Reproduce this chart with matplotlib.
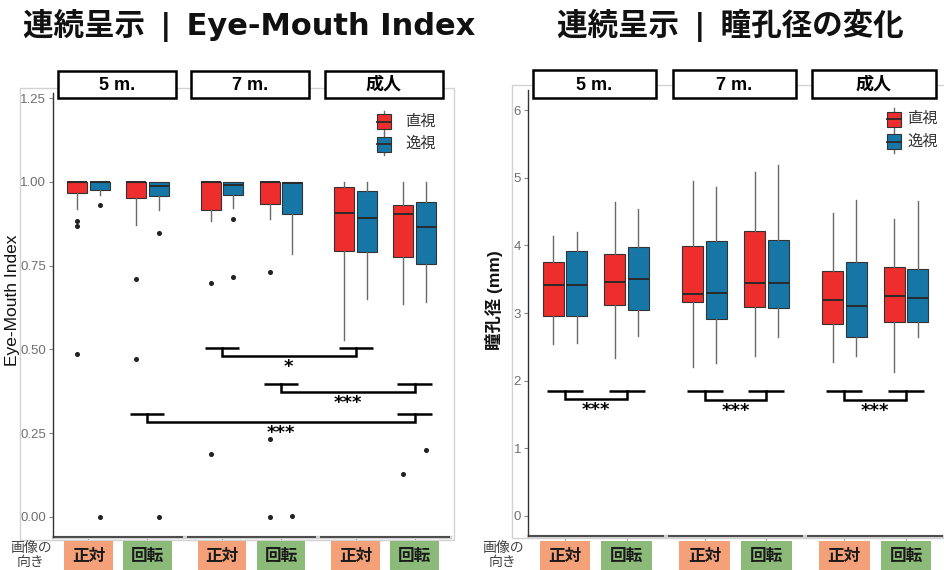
import matplotlib
matplotlib.use('Agg')
import matplotlib.pyplot as plt
from matplotlib.patches import Rectangle
from matplotlib.lines import Line2D
from matplotlib.transforms import Affine2D, blended_transform_factory

plt.rcParams['font.family'] = ['Liberation Sans', 'Noto Sans CJK JP', 'DejaVu Sans']

FACETS = ['5 m.', '7 m.', '成人']
ORIENT = ['正対', '回転']
GAZE = ['直視', '逸視']

# order: facet -> orientation -> gaze (直視, 逸視)
EMI_LO = [0.920, 0.961, 0.872, 0.915, 0.884, 0.922, 0.889, 0.786, 0.527, 0.649, 0.634, 0.641]
EMI_Q1 = [0.966, 0.976, 0.951, 0.958, 0.917, 0.961, 0.934, 0.905, 0.793, 0.790, 0.776, 0.756]
EMI_MED = [1.000, 1.000, 0.998, 0.986, 0.998, 0.989, 1.000, 0.996, 0.907, 0.893, 0.905, 0.865]
EMI_Q3 = [1.000, 1.000, 1.000, 1.000, 1.000, 1.000, 1.000, 1.000, 0.983, 0.974, 0.930, 0.940]
EMI_HI = [1.000, 1.000, 1.000, 1.000, 1.000, 1.000, 1.000, 1.000, 1.000, 1.000, 0.998, 1.000]
EMI_OUT = [
    [0.884, 0.869, 0.485], [0.930, 0.000],
    [0.710, 0.470], [0.847, 0.000],
    [0.699, 0.188], [0.889, 0.715],
    [0.732, 0.232, 0.000], [0.004],
    [], [],
    [0.129], [0.199],
]

PUP_LO = [2.54, 2.55, 2.34, 2.66, 2.20, 2.26, 2.37, 2.64, 2.27, 2.37, 2.13, 2.65]
PUP_Q1 = [2.96, 2.95, 3.12, 3.04, 3.16, 2.91, 3.09, 3.08, 2.83, 2.64, 2.86, 2.87]
PUP_MED = [3.41, 3.42, 3.46, 3.50, 3.28, 3.30, 3.45, 3.45, 3.19, 3.11, 3.25, 3.22]
PUP_Q3 = [3.75, 3.92, 3.88, 3.98, 3.99, 4.06, 4.21, 4.08, 3.62, 3.75, 3.68, 3.65]
PUP_HI = [4.14, 4.20, 4.65, 4.54, 4.96, 4.87, 5.09, 5.19, 4.48, 4.67, 4.39, 4.66]
PUP_OUT = [[] for _ in range(12)]

# brackets: (facet, orientation) -> (facet, orientation), height, label
EMI_BRACKETS = [
    ((1, 0), (2, 0), 0.504, '*'),
    ((1, 1), (2, 1), 0.396, '***'),
    ((0, 1), (2, 1), 0.307, '***'),
]
PUP_BRACKETS = [
    ((0, 0), (0, 1), 1.85, '***'),
    ((1, 0), (1, 1), 1.84, '***'),
    ((2, 0), (2, 1), 1.84, '***'),
]

FILL = {'直視': '#ee2d2d', '逸視': '#1677a6'}
ORIENT_BG = {'正対': '#f4a078', '回転': '#8cba78'}
EDGE = '#333333'
WHISK = '#6a6a6a'
FRAME = '#d2d2d2'

STEP = 2.265
HALF = 0.19
BOXW = 0.34

W, H = 944, 570
fig = plt.figure(figsize=(W / 100, H / 100), dpi=100)
PX = Affine2D().scale(1 / W, -1 / H).translate(0, 1) + fig.transFigure


def axes_px(x0, y0, x1, y1):
    return fig.add_axes([x0 / W, 1 - y1 / H, (x1 - x0) / W, (y1 - y0) / H])


def center(f, o):
    return f * STEP + 1 + o


def draw_chart(box, frame, stats, fliers, ylim, yticks, yfmt, brackets, drop,
               ylabel, ylabel_x, ylabel_bold, title, title_x,
               strip_y, legend_xy, legend_gap, side_x):
    ax = axes_px(*box)
    lo, q1, med, q3, hi = stats

    bxp_stats, pos, colors = [], [], []
    i = 0
    for f in range(len(FACETS)):
        for o in range(len(ORIENT)):
            for g, gaze in enumerate(GAZE):
                bxp_stats.append(dict(whislo=lo[i], q1=q1[i], med=med[i], q3=q3[i],
                                      whishi=hi[i], fliers=fliers[i]))
                pos.append(center(f, o) + (g - 0.5) * 2 * HALF)
                colors.append(FILL[gaze])
                i += 1

    parts = ax.bxp(bxp_stats, positions=pos, widths=BOXW, patch_artist=True,
                   showcaps=False, manage_ticks=False,
                   boxprops=dict(edgecolor=EDGE, linewidth=0.8),
                   medianprops=dict(color='#2a2a2a', linewidth=1.4),
                   whiskerprops=dict(color=WHISK, linewidth=1.0),
                   flierprops=dict(marker='o', markersize=2.6, markerfacecolor='#222222',
                                   markeredgecolor='#222222', linestyle='none'))
    for patch, c in zip(parts['boxes'], colors):
        patch.set_facecolor(c)

    # significance brackets
    arm = 0.29
    for (fa, oa), (fb, ob), y, lab in brackets:
        xa, xb = center(fa, oa), center(fb, ob)
        yl = y - drop
        for x in (xa, xb):
            ax.plot([x - arm, x + arm], [y, y], color='black', lw=1.8,
                    solid_capstyle='butt')
        ax.plot([xa, xa, xb, xb], [y, yl, yl, y], color='black', lw=1.8,
                solid_joinstyle='miter')
        ax.annotate(lab, ((xa + xb) / 2, yl), xytext=(0, -11.5),
                    textcoords='offset points', ha='center', va='baseline',
                    fontsize=13, fontweight='bold', family='DejaVu Sans')

    x0, x1 = 0.4, (len(FACETS) - 1) * STEP + 2.6
    ax.set_xlim(x0, x1)
    ax.set_ylim(*ylim)
    ax.set_facecolor('none')
    for s in ('top', 'right', 'bottom'):
        ax.spines[s].set_visible(False)
    ax.spines['left'].set_color('#333333')
    ax.spines['left'].set_linewidth(1.0)
    ax.set_yticks(yticks)
    ax.set_yticklabels([yfmt.format(v) for v in yticks])
    ax.tick_params(axis='y', length=3, color='#888888', labelcolor='#6f6f6f',
                   labelsize=9.5, pad=2)
    ax.set_xticks([center(f, o) for f in range(len(FACETS)) for o in range(len(ORIENT))])
    ax.set_xticklabels([])
    ax.tick_params(axis='x', length=3, color='#888888')

    # bottom axis: one segment per facet
    bt = blended_transform_factory(ax.transData, ax.transAxes)
    ax.plot([x0, x1], [0, 0], transform=bt, color=FRAME, lw=2.5, clip_on=False)
    for f in range(len(FACETS)):
        ax.plot([f * STEP + 0.4, f * STEP + 2.6], [0, 0], transform=bt,
                color='#333333', lw=1.2, clip_on=False, solid_capstyle='butt')

    # outer frame
    fx0, fy0, fx1, fy1 = frame
    fig.add_artist(Rectangle((fx0, fy0), fx1 - fx0, fy1 - fy0, transform=PX,
                             fill=False, edgecolor=FRAME, lw=1.0, zorder=0.5))

    # facet strips and orientation labels
    sx = blended_transform_factory(ax.transData, PX)
    for f, name in enumerate(FACETS):
        a = f * STEP + 0.48
        fig.add_artist(Rectangle((a, strip_y[0]), 2.0, strip_y[1] - strip_y[0],
                                 transform=sx, facecolor='white', edgecolor='black',
                                 lw=1.8, zorder=3))
        fig.text(a + 1.0, (strip_y[0] + strip_y[1]) / 2 + 1, name, transform=sx,
                 ha='center', va='center', fontsize=13, fontweight='bold', zorder=4)
        for o, lab in enumerate(ORIENT):
            c = center(f, o)
            fig.add_artist(Rectangle((c - 0.41, 541), 0.82, 40, transform=sx,
                                     facecolor=ORIENT_BG[lab], edgecolor='none', zorder=3))
            fig.text(c, 557, lab, transform=sx, ha='center', va='center',
                     fontsize=12, fontweight='bold', color='#1a1a1a', zorder=4)

    fig.text(side_x, 555, '画像の\n向き', transform=PX, ha='center', va='center',
             fontsize=10, color='#444444', linespacing=0.95)

    # legend
    lx, ly = legend_xy
    for k, gaze in enumerate(GAZE):
        cy = ly + k * 22.5
        fig.add_artist(Line2D([lx + 7, lx + 7], [cy - 11, cy + 11], transform=PX,
                              color=WHISK, lw=1.0, zorder=3))
        fig.add_artist(Rectangle((lx, cy - 7.5), 14, 15, transform=PX,
                                 facecolor=FILL[gaze], edgecolor=EDGE, lw=0.8, zorder=4))
        fig.add_artist(Line2D([lx, lx + 14], [cy, cy], transform=PX,
                              color='#2a2a2a', lw=1.3, zorder=5))
        fig.text(lx + legend_gap, cy, gaze, transform=PX, ha='left', va='center',
                 fontsize=11, color='#333333')

    fig.text(ylabel_x, 300, ylabel, transform=PX, rotation=90, ha='center',
             va='center', fontsize=12.5,
             fontweight='bold' if ylabel_bold else 'normal', color='#111111')
    fig.text(title_x, 25, title, transform=PX, ha='center', va='center',
             fontsize=22, fontweight='bold', color='#111111',
             family=['DejaVu Sans', 'Noto Sans CJK JP'])
    return ax


draw_chart((53, 93, 450, 537), (20, 88, 454, 540),
           (EMI_LO, EMI_Q1, EMI_MED, EMI_Q3, EMI_HI), EMI_OUT,
           (-0.06, 1.265), [0, 0.25, 0.5, 0.75, 1.0, 1.25], '{:.2f}',
           EMI_BRACKETS, 0.024, 'Eye-Mouth Index', 13, False,
           '連続呈示\u2002|\u2002Eye-Mouth Index', 249, (71, 98), (377, 121.5), 28, 31)

draw_chart((528, 90, 943, 536), (512, 85, 950, 538),
           (PUP_LO, PUP_Q1, PUP_MED, PUP_Q3, PUP_HI), PUP_OUT,
           (-0.3, 6.3), [0, 1, 2, 3, 4, 5, 6], '{:d}',
           PUP_BRACKETS, 0.13, '瞳孔径 (mm)', 494, True,
           '連続呈示\u2002|\u2002瞳孔径の変化', 730, (70, 98), (887, 119), 20, 503)

fig.savefig('out.png', dpi=100)
